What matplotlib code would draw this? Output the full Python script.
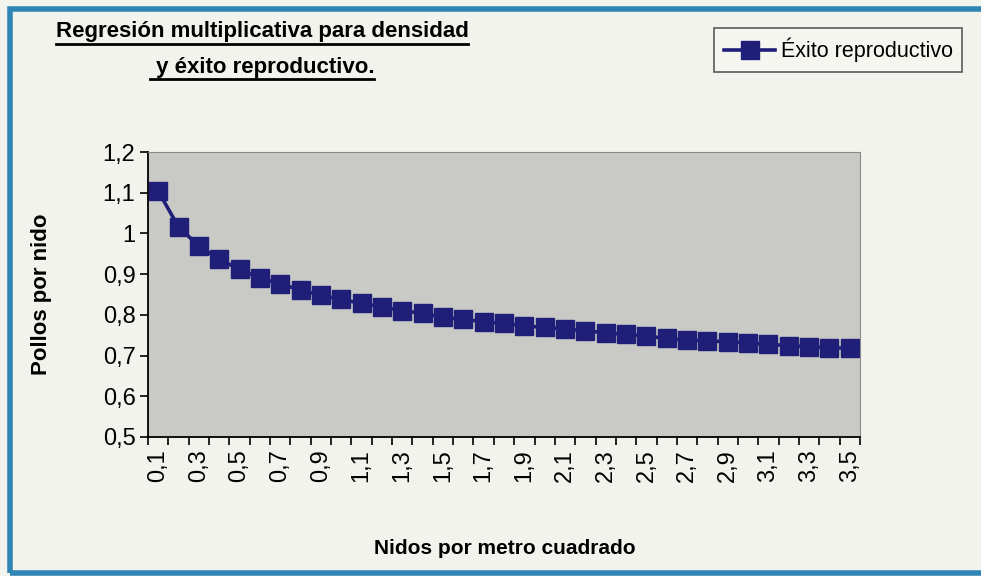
#!/usr/bin/env python3
import matplotlib
matplotlib.use("Agg")
import matplotlib.pyplot as plt
from matplotlib.patches import Rectangle
from matplotlib.lines import Line2D

# nidos por metro cuadrado (categorias) y pollos por nido
densidad = [round(0.1 * i, 1) for i in range(1, 36)]
exito = [1.104, 1.016, 0.969, 0.936, 0.912, 0.890, 0.876, 0.861, 0.848, 0.838,
         0.828, 0.820, 0.810, 0.804, 0.794, 0.789, 0.783, 0.779, 0.773, 0.769,
         0.765, 0.761, 0.756, 0.752, 0.748, 0.742, 0.738, 0.736, 0.734, 0.731,
         0.728, 0.724, 0.722, 0.719, 0.718]
y_ticks = [0.5, 0.6, 0.7, 0.8, 0.9, 1.0, 1.1, 1.2]

plt.rcParams['font.family'] = ['Liberation Sans', 'DejaVu Sans']

fig = plt.figure(figsize=(9.81, 5.76), dpi=100, facecolor='#f3f3ee')
ax = fig.add_axes([148/981, 1-437/576, (860-148)/981, (437-152)/576])
ax.set_facecolor('#c9cac5')

pos = list(range(len(densidad)))
ax.plot(pos, exito, color='#1f1f7a', marker='s', markersize=13.5,
        linewidth=2.6, label='Éxito reproductivo')

ax.set_xlim(-0.5, len(densidad) - 0.5)
ax.set_ylim(0.5, 1.2)
ax.set_yticks(y_ticks)
ax.set_yticklabels([('%g' % v).replace('.', ',') for v in y_ticks], fontsize=17)

ax.set_xticks([p - 0.5 for p in range(len(densidad) + 1)])
ax.set_xticklabels([])
ax.set_xticks(pos[::2], minor=True)
ax.set_xticklabels([str(d).replace('.', ',') for d in densidad[::2]],
                   minor=True, rotation=90, fontsize=17)
ax.tick_params(axis='x', which='minor', length=0, pad=9)
ax.tick_params(axis='x', which='major', length=6, width=1.2, direction='out')
ax.tick_params(axis='y', length=6, width=1.2, direction='out', pad=3)

for s in ['top', 'right']:
    ax.spines[s].set_color('#8a8a86')
    ax.spines[s].set_linewidth(0.8)
for s in ['left', 'bottom']:
    ax.spines[s].set_linewidth(1.3)

ax.set_ylabel('Pollos por nido', fontsize=16, fontweight='bold')
ax.yaxis.set_label_coords((52 - 148) / (860 - 148), 0.5)
fig.text(505/981, 1-549/576, 'Nidos por metro cuadrado', fontsize=15,
         fontweight='bold', ha='center', va='center')

leg = fig.legend(loc='upper left', bbox_to_anchor=(714/981, 1-28/576),
                 borderaxespad=0, fontsize=15.5,
                 frameon=True, fancybox=False, edgecolor='#333333',
                 handlelength=2.4, borderpad=0.45, handletextpad=0.25)
leg.get_frame().set_facecolor('#f7f7f3')
leg.get_frame().set_linewidth(1.2)

# titulo subrayado
t1 = fig.text(262/981, 1-32/576, 'Regresión multiplicativa para densidad',
              fontsize=16, fontweight='bold', ha='center', va='center')
t2 = fig.text(262/981, 1-67/576, ' y éxito reproductivo.', fontsize=16,
              fontweight='bold', ha='center', va='center')
fig.canvas.draw()
r = fig.canvas.get_renderer()
for t in (t1, t2):
    bb = t.get_window_extent(r).transformed(fig.transFigure.inverted())
    fig.add_artist(Line2D([bb.x0, bb.x1], [bb.y0 - 0.002, bb.y0 - 0.002],
                          transform=fig.transFigure, color='black', lw=2))

# marco azul
fig.add_artist(Rectangle((10/981, 3/576), 1.2, 1-12/576, transform=fig.transFigure,
                         fill=False, edgecolor='#2f86b5', linewidth=4))

fig.savefig('out.png', dpi=100, facecolor=fig.get_facecolor())
